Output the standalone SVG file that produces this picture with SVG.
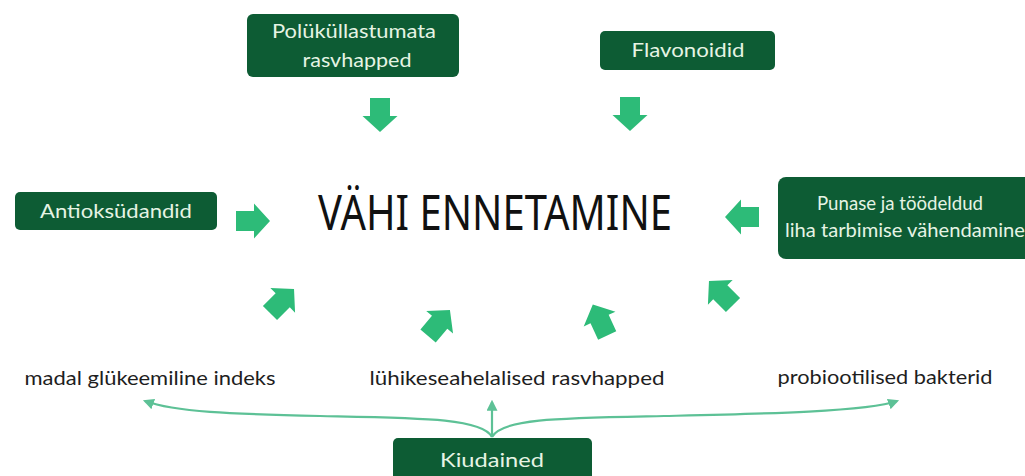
<svg xmlns="http://www.w3.org/2000/svg" xmlns:xlink="http://www.w3.org/1999/xlink" width="1025" height="476" viewBox="0 0 1025 476">
<style>
.box{fill:#0d5c34;}
.bt{fill:#e6f4e4;font-family:"Lato","Noto Sans",sans-serif;font-size:19px;text-anchor:middle;}
.lt{fill:#1e1e1e;font-family:"Lato","Noto Sans",sans-serif;font-size:20px;text-anchor:middle;}
.title{fill:#111;font-family:"Noto Sans","DejaVu Sans",sans-serif;font-size:50px;text-anchor:middle;}
.arr{fill:#2dbb78;}
.con{fill:none;stroke:#5dc196;stroke-width:2.2;}
</style>
<defs>
<path id="ar" d="M0,-17 L17.5,-1 L10,-1 L10,17 L-10,17 L-10,-1 L-17.5,-1 Z"/>
<marker id="mh" viewBox="0 0 10 10" refX="8" refY="5" markerWidth="5" markerHeight="5" orient="auto-start-reverse">
<path d="M0,0 L10,5 L0,10 Z" fill="#5dc196"/>
</marker>
</defs>
<rect width="1025" height="476" fill="#ffffff"/>
<g id="title"><text class="title" x="495" y="230" textLength="354" lengthAdjust="spacingAndGlyphs">VÄHI ENNETAMINE</text></g>
<g id="n-poly"><rect class="box" x="247" y="14" width="212" height="63" rx="6"/><text class="bt" x="354" y="38" textLength="164" lengthAdjust="spacingAndGlyphs">Polüküllastumata</text><text class="bt" x="357" y="67" textLength="109" lengthAdjust="spacingAndGlyphs">rasvhapped</text></g>
<g id="n-flav"><rect class="box" x="600" y="31" width="175" height="39" rx="5"/><text class="bt" x="688" y="57" textLength="113" lengthAdjust="spacingAndGlyphs">Flavonoidid</text></g>
<g id="n-anti"><rect class="box" x="15" y="192" width="202" height="38" rx="5"/><text class="bt" x="116" y="218" textLength="152" lengthAdjust="spacingAndGlyphs">Antioksüdandid</text></g>
<g id="n-punane"><rect class="box" x="778" y="177" width="260" height="82" rx="8"/><text class="bt" x="900" y="210" textLength="166" lengthAdjust="spacingAndGlyphs">Punase ja töödeldud</text><text class="bt" x="905" y="237" textLength="240" lengthAdjust="spacingAndGlyphs">liha tarbimise vähendamine</text></g>
<g id="n-kiud"><rect class="box" x="393" y="438" width="199" height="42" rx="5"/><text class="bt" x="492" y="467" textLength="104" lengthAdjust="spacingAndGlyphs">Kiudained</text></g>
<g id="n-madal"><text class="lt" x="150" y="385" textLength="251" lengthAdjust="spacingAndGlyphs">madal glükeemiline indeks</text></g>
<g id="n-luhi"><text class="lt" x="517" y="385" textLength="295" lengthAdjust="spacingAndGlyphs">lühikeseahelalised rasvhapped</text></g>
<g id="n-pro"><text class="lt" x="885" y="384" textLength="215" lengthAdjust="spacingAndGlyphs">probiootilised bakterid</text></g>
<g id="arrows">
<use xlink:href="#ar" class="arr" transform="translate(380,115) rotate(180)"/>
<use xlink:href="#ar" class="arr" transform="translate(630,114) rotate(180)"/>
<use xlink:href="#ar" class="arr" transform="translate(253,221) rotate(90)"/>
<use xlink:href="#ar" class="arr" transform="translate(742,217) rotate(-90)"/>
<use xlink:href="#ar" class="arr" transform="translate(282,301) rotate(45)"/>
<use xlink:href="#ar" class="arr" transform="translate(439,323) rotate(40)"/>
<use xlink:href="#ar" class="arr" transform="translate(600,320) rotate(-25)"/>
<use xlink:href="#ar" class="arr" transform="translate(721,293) rotate(-45)"/>
</g>
<g id="connectors">
<path class="con" marker-end="url(#mh)" d="M492,437 C482,418 420,418 320,416 C230,414 175,412 145,401"/>
<path class="con" marker-end="url(#mh)" d="M492,437 C502,418 564,418 664,416 C754,414 867,412 897,401"/>
<path class="con" marker-end="url(#mh)" d="M492,437 L492,402"/>
</g>
</svg>
